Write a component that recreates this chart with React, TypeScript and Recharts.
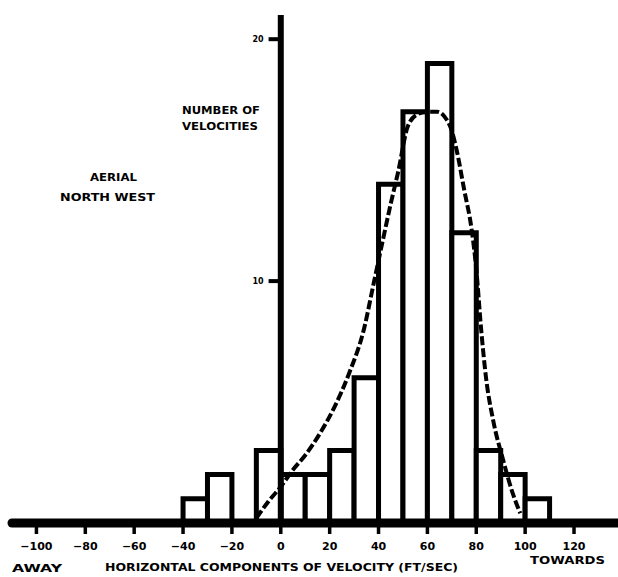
import React from "react";
import {
  ComposedChart,
  Line,
  XAxis,
  YAxis,
  ReferenceArea,
  ReferenceLine,
} from "recharts";

// histogram bins (ft/sec), each 10 wide
const binStarts = [-40, -30, -20, -10, 0, 10, 20, 30, 40, 50, 60, 70, 80, 90, 100];
const binCounts = [1, 2, 0, 3, 2, 2, 3, 6, 14, 17, 19, 12, 3, 2, 1];
const binWidth = 10;

// fitted distribution drawn over the bars
const curveX = [-10, -5, 0, 5, 10, 16, 22, 28, 34, 38, 42, 45, 48, 52, 56, 60, 64, 67, 70, 72, 75, 78, 80, 82, 84, 87, 91, 95, 98];
const curveY = [0.2, 0.9, 1.5, 2.2, 2.8, 3.7, 4.8, 6.2, 8.0, 9.9, 11.8, 13.2, 14.5, 16.4, 16.9, 17.0, 17.0, 16.8, 16.2, 15.4, 13.8, 12.2, 10.5, 8.0, 6.0, 4.2, 2.6, 1.2, 0.4];

const xTicks = [-100, -80, -60, -40, -20, 0, 20, 40, 60, 80, 100, 120];
const yTicks = [10, 20];

const curve = curveX.map((x, i) => ({ x, count: curveY[i] }));
const bins = binStarts
  .map((start, i) => ({ start, end: start + binWidth, count: binCounts[i] }))
  .filter((b) => b.count > 0);

const FONT = "'DejaVu Sans', sans-serif";

const fmtTick = (v: number) => (v < 0 ? `\u2212${Math.abs(v)}` : `${v}`);

function Annotations() {
  const common = {
    fontFamily: FONT,
    fontWeight: 700,
    fontSize: 10,
    fill: "#000",
    lengthAdjust: "spacingAndGlyphs" as const,
  };
  return (
    <svg
      width={618}
      height={577}
      style={{ position: "absolute", left: 0, top: 0, pointerEvents: "none" }}
    >
      <text {...common} x={182} y={114} textLength={78}>NUMBER OF</text>
      <text {...common} x={182} y={130} textLength={76}>VELOCITIES</text>
      <text {...common} x={90} y={181} textLength={47}>AERIAL</text>
      <text {...common} x={60} y={201} textLength={95}>NORTH WEST</text>
      <text {...common} fontSize={11} x={12} y={572} textLength={50}>AWAY</text>
      <text {...common} fontSize={11} x={105} y={571} textLength={353}>
        HORIZONTAL COMPONENTS OF VELOCITY (FT/SEC)
      </text>
      <text {...common} fontSize={11} x={530} y={564} textLength={75}>TOWARDS</text>
    </svg>
  );
}

export default function App() {
  return (
    <div
      style={{
        position: "absolute",
        left: 0,
        top: 0,
        width: 618,
        height: 577,
        background: "#fff",
      }}
    >
      <ComposedChart
        width={618}
        height={577}
        data={curve}
        margin={{ top: 15, right: 0, bottom: 0, left: 12 }}
      >
        <XAxis
          type="number"
          dataKey="x"
          domain={[-110, 138]}
          allowDataOverflow
          ticks={xTicks}
          tickFormatter={fmtTick}
          height={54}
          axisLine={{ stroke: "#000", strokeWidth: 9, strokeLinecap: "round" }}
          tickLine={{ stroke: "#000", strokeWidth: 3.5 }}
          tickSize={11}
          tickMargin={8}
          tick={{ fill: "#000", fontSize: 11, fontWeight: 700, fontFamily: FONT }}
        />
        <YAxis hide type="number" domain={[0, 21]} allowDataOverflow />
        {bins.map((b) => (
          <ReferenceArea
            key={b.start}
            x1={b.start}
            x2={b.end}
            y1={0}
            y2={b.count}
            fill="#fff"
            fillOpacity={1}
            stroke="#000"
            strokeWidth={5}
            ifOverflow="visible"
          />
        ))}
        <Line
          type="monotone"
          dataKey="count"
          stroke="#000"
          strokeWidth={4}
          strokeDasharray="9 3"
          dot={false}
          activeDot={false}
          isAnimationActive={false}
        />
        <ReferenceLine x={0} stroke="#000" strokeWidth={6} />
        {yTicks.map((t) => (
          <ReferenceLine
            key={t}
            segment={[
              { x: -5, y: t },
              { x: 0, y: t },
            ]}
            stroke="#000"
            strokeWidth={4}
            label={{
              value: `${t}`,
              position: "left",
              offset: 5,
              fill: "#000",
              fontSize: 8,
              fontWeight: 700,
              fontFamily: FONT,
            }}
          />
        ))}
      </ComposedChart>
      <Annotations />
    </div>
  );
}
